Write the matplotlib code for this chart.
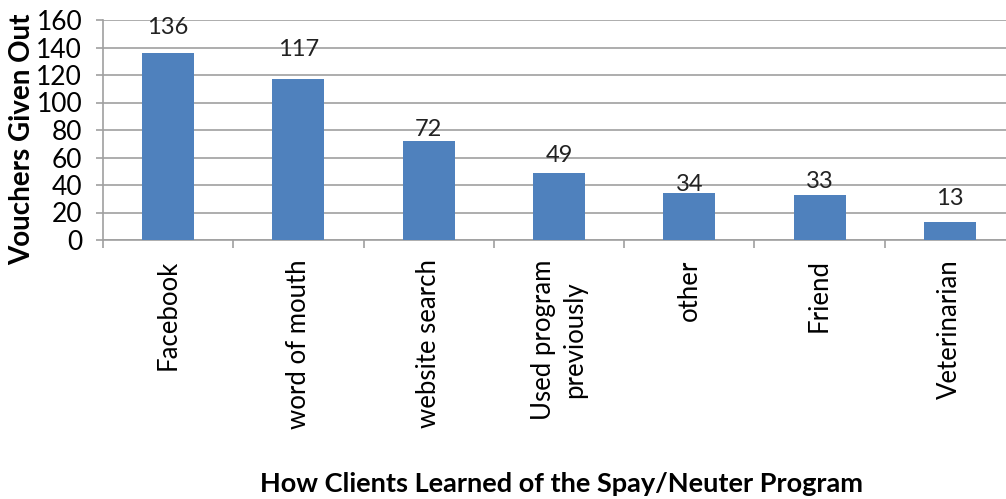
import matplotlib
matplotlib.use("Agg")
import matplotlib.pyplot as plt
import numpy as np

categories = ["Facebook", "word of mouth", "website search", "Used program\npreviously", "other", "Friend", "Veterinarian"]
values = [136, 117, 72, 49, 34, 33, 13]
yticks = [0, 20, 40, 60, 80, 100, 120, 140, 160]

# label gaps above each bar (points) as placed in the original
label_gap_pt = [14, 16.5, 3.5, 8, 1.5, 5, 12]

plt.rcParams['font.family'] = ['Lato', 'DejaVu Sans']

fig = plt.figure(figsize=(10.06, 4.99), dpi=100)
ax = fig.add_axes([103/1006, 1-240/499, (1015-103)/1006, 220/499])

x = np.arange(len(categories))
ax.bar(x, values, width=0.40, color='#4f81bd', zorder=3)
for xi, v, g in zip(x, values, label_gap_pt):
    ax.annotate(str(v), (xi, v), xytext=(0, g), textcoords='offset points',
                ha='center', va='baseline', fontsize=17, color='#222222', zorder=4)

ax.set_xlim(-0.5, len(categories) - 0.5)
ax.set_ylim(0, 160)
ax.set_yticks(yticks)
ax.set_yticklabels([str(t) for t in yticks], fontsize=19)
ax.yaxis.grid(True, color='#a0a0a0', linewidth=1.2, zorder=0)
ax.set_xticks(x)
ax.set_xticklabels(categories, rotation=90, fontsize=18.5, va='top', linespacing=1.35)
ax.set_xticks(np.arange(-0.5, len(categories) + 0.5, 1), minor=True)
ax.tick_params(axis='x', which='major', length=0, pad=14)
ax.tick_params(axis='x', which='minor', length=6, color='#a0a0a0', width=1.2)
ax.tick_params(axis='y', length=5, color='#a0a0a0', width=1.2, pad=10)

for s in ['top', 'right']:
    ax.spines[s].set_visible(False)
ax.spines['left'].set_color('#a0a0a0')
ax.spines['bottom'].set_color('#a0a0a0')
ax.spines['left'].set_linewidth(1.2)
ax.spines['bottom'].set_linewidth(1.2)

fig.text(22/1006, 1-139/499, "Vouchers Given Out", rotation=90, ha='center', va='center',
         fontsize=20, fontweight='bold')
fig.text(562/1006, 1-484/499, "How Clients Learned of the Spay/Neuter Program", ha='center', va='center',
         fontsize=19.5, fontweight='bold')

fig.savefig("out.png", dpi=100)
